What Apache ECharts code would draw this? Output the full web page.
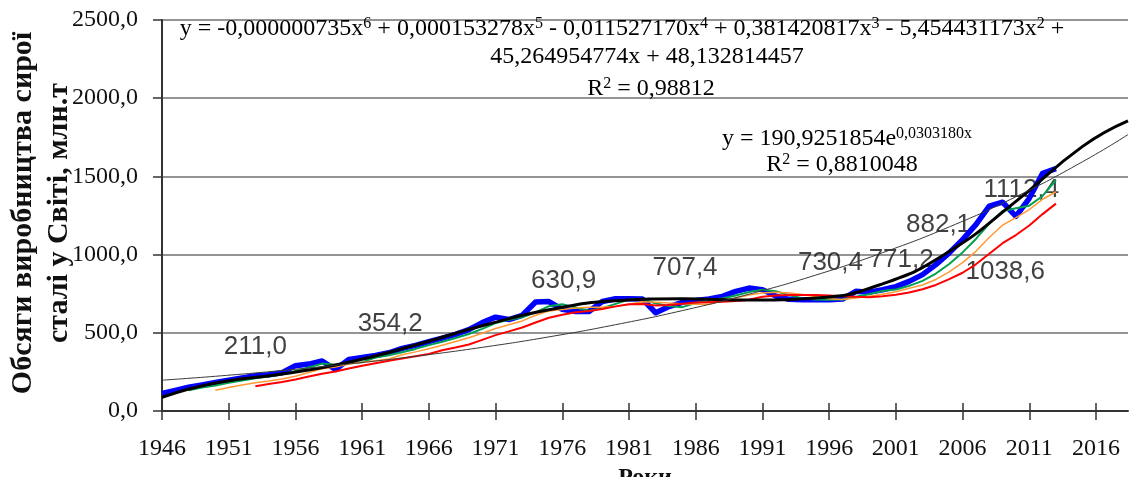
<!DOCTYPE html>
<html><head><meta charset="utf-8">
<script src="https://cdn.jsdelivr.net/npm/echarts@6/dist/echarts.min.js"></script>
<style>html,body{margin:0;padding:0;background:#fff;}#c{width:1130px;height:477px;}</style>
</head><body><div id="c"></div>
<script>
// ---- data ----
const years = [1946,1947,1948,1949,1950,1951,1952,1953,1954,1955,1956,1957,1958,1959,1960,1961,1962,1963,1964,1965,
  1966,1967,1968,1969,1970,1971,1972,1973,1974,1975,1976,1977,1978,1979,1980,1981,1982,1983,1984,1985,
  1986,1987,1988,1989,1990,1991,1992,1993,1994,1995,1996,1997,1998,1999,2000,2001,2002,2003,2004,2005,
  2006,2007,2008,2009,2010,2011,2012,2013];
const production = [112,132,152,167,182,197,212,226,232,245,
  290,300,320,265,330,342,355,372,400,420,
  444,466,490,520,565,600,585,612,697,700,
  650,636,636,700,718,718,716,628,668,695,
  707,716,733,765,786,776,735,714,712,712,
  712,716,765,760,775,795,829,872,936,1011,
  1096,1192,1310,1335,1245,1360,1520,1550];
const avgGreen = [null,null,132,150,163,180,195,210,222,234,
  256,278,303,295,305,312,342,356,376,397,
  421,443,467,492,525,562,583,599,631,670,
  682,662,641,657,685,712,717,687,671,664,
  690,706,719,738,761,776,766,742,720,713,
  712,713,731,747,767,777,800,832,879,940,
  1014,1100,1199,1279,1297,1313,1375,1477];
const avgOrange = [null,null,null,null,132,150,166,180,192,205,
  222,246,270,282,300,311,322,333,360,378,
  398,420,444,468,497,528,552,576,612,639,
  649,659,664,664,668,682,698,696,690,685,
  683,683,704,723,741,755,759,755,745,730,
  717,713,723,733,746,762,785,806,841,889,
  949,1021,1109,1189,1236,1288,1354,1402];
const avgRed = [null,null,null,null,null,null,null,158,172,186,
  202,220,238,252,272,289,305,321,335,350,
  364,388,406,425,455,485,509,534,566,596,
  616,631,640,652,669,682,684,675,678,685,
  694,696,698,704,712,731,739,742,742,742,
  739,733,730,728,733,743,758,778,806,843,
  884,938,1005,1073,1125,1186,1259,1326];
const polyYears = [1946,1950,1955,1960,1965,1970,1975,1980,1985,1990,1995,2000,2005,2010,2015,2018.4];
const polyTrend = [88,179,236,312,422,545,647,705,718,709,723,813,1020,1340,1692,1855];
const expYears = [1946,1950,1955,1960,1965,1970,1975,1980,1985,1990,1995,2000,2005,2010,2015,2018.4];
const expTrend = [197,222,259,301,350,407,474,552,642,747,869,1012,1177,1370,1594,1767];
const tickYears = [1946,1951,1956,1961,1966,1971,1976,1981,1986,1991,1996,2001,2006,2011,2016];
const labelTexts = ['211,0','354,2','630,9','707,4','730,4','771,2','882,1','1038,6','1112,4'];
const labelYears = [1953.0,1963.1,1976.1,1985.2,1996.1,2001.4,2004.2,2009.2,2010.4];
const labelValues = [412,558,835,915,947,968,1192,889,1417];
const yTitle = 'Обсяги виробництва сирої\nсталі у Світі, млн.т';
const xTitle = 'Роки';

// ---- chart ----
const chart = echarts.init(document.getElementById('c'));
const serif = 'Liberation Serif';
const pair = (xs, ys) => xs.map((x, i) => [x, ys[i]]);
const sup = { fontSize: 16, fontFamily: serif, verticalAlign: 'top', lineHeight: 26, fill: '#000' };
function eqText(text, x, y) {
  return { type: 'text', x: x, y: y, z: 50, silent: true,
    style: { text: text, align: 'center', verticalAlign: 'middle', fontSize: 24, fontFamily: serif,
      fill: '#000', lineHeight: 26, rich: { s: sup } } };
}
const lineBase = { type: 'line', symbol: 'none', showSymbol: false, silent: true, connectNulls: false, z: 3 };
chart.setOption({
  animation: false,
  backgroundColor: '#fff',
  grid: { left: 162, right: 2, top: 20, bottom: 66, containLabel: false, outerBoundsMode: 'none' },
  xAxis: [{
    type: 'value', min: 1946, max: 2018.4,
    axisLine: { show: true, onZero: false, lineStyle: { color: '#333', width: 2 } },
    axisTick: { show: true, inside: false, length: 9, customValues: tickYears, lineStyle: { color: '#333', width: 1.5 } },
    axisLabel: { show: true, customValues: tickYears, margin: 26, fontSize: 24, fontFamily: serif, color: '#111',
      formatter: v => String(v) },
    splitLine: { show: false },
    name: xTitle, nameLocation: 'middle', nameGap: 44,
    nameTextStyle: { fontSize: 24, fontFamily: serif, fontWeight: 'bold', color: '#111', verticalAlign: 'top' }
  }, {
    type: 'value', min: 1946, max: 2018.4, position: 'bottom',
    axisLine: { show: false },
    axisTick: { show: true, inside: true, length: 8, customValues: tickYears, lineStyle: { color: '#333', width: 1.5 } },
    axisLabel: { show: false }, splitLine: { show: false }
  }],
  yAxis: {
    type: 'value', min: 0, max: 2500, interval: 500,
    axisLine: { show: true, lineStyle: { color: '#333', width: 2 } },
    axisTick: { show: true, inside: false, length: 9, lineStyle: { color: '#333', width: 1.5 } },
    axisLabel: { margin: 24, fontSize: 24, fontFamily: serif, color: '#111',
      formatter: v => v.toFixed(1).replace('.', ',') },
    splitLine: { show: true, lineStyle: { color: '#707070', width: 1.5 } }
  },
  graphic: [
    eqText('y = -0,000000735x{s|6} + 0,000153278x{s|5} - 0,011527170x{s|4} + 0,381420817x{s|3} - 5,454431173x{s|2} +', 622, 29),
    eqText('45,264954774x + 48,132814457', 647, 57),
    eqText('R{s|2} = 0,98812', 651, 89),
    eqText('y = 190,9251854e{s|0,0303180x}', 847, 139),
    eqText('R{s|2} = 0,8810048', 842, 165),
    { type: 'text', x: 41, y: 213, rotation: Math.PI / 2, silent: true, z: 50,
      style: { text: yTitle, align: 'center', verticalAlign: 'middle', fontSize: 30, fontFamily: serif,
        fontWeight: 'bold', lineHeight: 36, fill: '#111' } }
  ],
  series: [
    { type: 'scatter', z: 1, silent: true, symbolSize: 0,
      data: labelYears.map((y, k) => [y, labelValues[k], labelTexts[k]]),
      label: { show: true, position: 'inside', formatter: p => p.data[2], fontSize: 26,
        fontFamily: 'Liberation Sans', color: '#111' } },
    Object.assign({}, lineBase, { data: pair(years, production), lineStyle: { color: '#0000ff', width: 5.5, join: 'round' } }),
    Object.assign({}, lineBase, { data: pair(years, avgGreen), lineStyle: { color: '#00a050', width: 2 } }),
    Object.assign({}, lineBase, { data: pair(years, avgOrange), lineStyle: { color: '#ff9933', width: 1.5 } }),
    Object.assign({}, lineBase, { data: pair(years, avgRed), lineStyle: { color: '#ff0000', width: 2 } }),
    Object.assign({}, lineBase, { data: pair(polyYears, polyTrend), smooth: true,
      lineStyle: { color: '#000', width: 3 } }),
    Object.assign({}, lineBase, { data: pair(expYears, expTrend), smooth: true,
      lineStyle: { color: '#3a3a3a', width: 1 } })
  ]
});
</script></body></html>
